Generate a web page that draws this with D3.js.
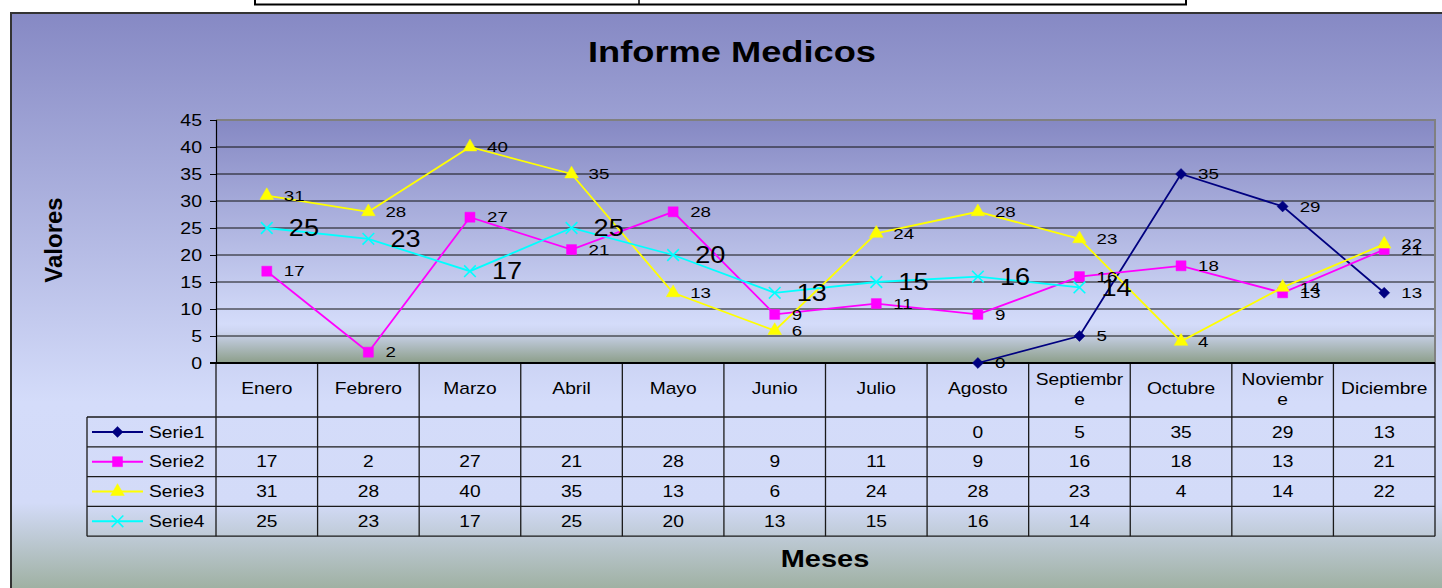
<!DOCTYPE html>
<html>
<head>
<meta charset="utf-8">
<script src="https://cdn.jsdelivr.net/npm/d3@7"></script>
<style>
  body { margin: 0; background: #fff; }
  text { font-family: "Liberation Sans", Arial, sans-serif; fill: #000; }
</style>
</head>
<body>
<div id="chart"></div>
<script>
// data
var meses = ["Enero", "Febrero", "Marzo", "Abril", "Mayo", "Junio", "Julio", "Agosto", "Septiembre", "Octubre", "Noviembre", "Diciembre"];
var serie1 = [null, null, null, null, null, null, null, 0, 5, 35, 29, 13];
var serie2 = [17, 2, 27, 21, 28, 9, 11, 9, 16, 18, 13, 21];
var serie3 = [31, 28, 40, 35, 13, 6, 24, 28, 23, 4, 14, 22];
var serie4 = [25, 23, 17, 25, 20, 13, 15, 16, 14, null, null, null];
var nombres = ["Serie1", "Serie2", "Serie3", "Serie4"];
var yTicks = [0, 5, 10, 15, 20, 25, 30, 35, 40, 45];

var series = [serie1, serie2, serie3, serie4];
var colores = ["#000080", "#ff00ff", "#ffff00", "#00ffff"];

var W = 1442, H = 588;
var svg = d3.select("#chart").append("svg").attr("width", W).attr("height", H);

// scales
var x = d3.scaleBand().domain(meses).range([216, 1435]);
var y = d3.scaleLinear().domain([0, 45]).range([363, 120]);

// gradients
var defs = svg.append("defs");
function grad(id, stops) {
    var g = defs.append("linearGradient").attr("id", id)
        .attr("x1", 0).attr("y1", 0).attr("x2", 0).attr("y2", 1);
    stops.forEach(function (s) {
        g.append("stop").attr("offset", s[0]).attr("stop-color", s[1]);
    });
}
grad("bgOuter", [[0, "#8689c4"], [0.66, "#d4dcfa"], [0.83, "#d3dbf8"], [1, "#96a994"]]);
grad("bgPlot", [[0, "#8588c3"], [0.84, "#d4dcfa"], [0.87, "#cdd5f1"], [1, "#8c9e89"]]);

// text helper: Excel text looks stretched sideways
function sText(g, px, py, str, size, sx, anchor, weight) {
    return g.append("text")
        .attr("transform", "translate(" + px + "," + py + ") scale(" + sx + ",1)")
        .attr("text-anchor", anchor || "middle")
        .style("font-size", size + "px")
        .style("font-weight", weight || "normal")
        .text(str);
}

// small box at the top of the page
svg.append("rect").attr("x", 255).attr("y", -6).attr("width", 931).attr("height", 10.5)
    .attr("fill", "#fff").attr("stroke", "#000").attr("stroke-width", 2);
svg.append("line").attr("x1", 639).attr("x2", 639).attr("y1", 0).attr("y2", 4)
    .attr("stroke", "#000").attr("stroke-width", 1.5);

// chart area
svg.append("rect").attr("x", 11).attr("y", 13).attr("width", W).attr("height", 590)
    .attr("fill", "url(#bgOuter)").attr("stroke", "#333").attr("stroke-width", 2);

// plot area
svg.append("rect").attr("x", 216).attr("y", 120).attr("width", 1435 - 216).attr("height", 363 - 120)
    .attr("fill", "url(#bgPlot)");

// gridlines
svg.append("g").selectAll("line").data(yTicks.filter(function (d) { return d > 0 && d < 45; }))
    .enter().append("line")
    .attr("x1", 216).attr("x2", 1435)
    .attr("y1", function (d) { return y(d); }).attr("y2", function (d) { return y(d); })
    .attr("stroke", "#111").attr("stroke-width", 1);

// plot border top / right
svg.append("path").attr("d", "M216," + y(45) + "H1435V363")
    .attr("fill", "none").attr("stroke", "#808080").attr("stroke-width", 2);

// y axis
var yAxis = svg.append("g").attr("transform", "translate(216,0)")
    .call(d3.axisLeft(y).tickValues(yTicks).tickSize(6).tickFormat(""));
yAxis.select(".domain").attr("stroke", "#000").attr("stroke-width", 1.2);
yAxis.selectAll(".tick line").attr("stroke", "#000");
yTicks.forEach(function (t) {
    sText(svg, 202, y(t) + 5.6, t, 16, 1.22, "end");
});

// table grid
var rowTop = 417, rowH = 29.8, nRows = nombres.length;
var tableBottom = rowTop + rowH * nRows;
var tbl = svg.append("g").attr("stroke", "#1a1a1a").attr("stroke-width", 1.3);
for (var r = 0; r <= nRows; r++) {
    tbl.append("line").attr("x1", 87).attr("x2", 1435)
        .attr("y1", rowTop + r * rowH).attr("y2", rowTop + r * rowH);
}
tbl.append("line").attr("x1", 87).attr("x2", 87).attr("y1", rowTop).attr("y2", tableBottom);
meses.forEach(function (m, i) {
    tbl.append("line").attr("x1", x(m)).attr("x2", x(m)).attr("y1", 363).attr("y2", tableBottom);
});
tbl.append("line").attr("x1", 1435).attr("x2", 1435).attr("y1", 363).attr("y2", tableBottom);

// x axis line (bold zero line)
svg.append("line").attr("x1", 210).attr("x2", 1435).attr("y1", 363).attr("y2", 363)
    .attr("stroke", "#000").attr("stroke-width", 2.2);

// category labels, wrapped by character like Excel
var catSX = 1.2, catSize = 16, maxW = x.bandwidth() - 10;
meses.forEach(function (m) {
    var cx = x(m) + x.bandwidth() / 2;
    var probe = sText(svg, 0, 0, m, catSize, catSX);
    var lines = [];
    var cur = "";
    for (var k = 0; k < m.length; k++) {
        probe.text(cur + m[k]);
        if (probe.node().getComputedTextLength() * catSX > maxW && cur.length) {
            lines.push(cur);
            cur = m[k];
        } else {
            cur += m[k];
        }
    }
    lines.push(cur);
    probe.remove();
    var y0 = lines.length === 1 ? 394 : 385;
    lines.forEach(function (ln, j) {
        sText(svg, cx, y0 + j * 20, ln, catSize, catSX);
    });
});

// markers
var diamond = { draw: function (ctx, size) {
    var r = Math.sqrt(size / 2);
    ctx.moveTo(0, -r); ctx.lineTo(r, 0); ctx.lineTo(0, r); ctx.lineTo(-r, 0); ctx.closePath();
} };
var symbols = [
    d3.symbol().type(diamond).size(60),
    d3.symbol().type(d3.symbolSquare).size(100),
    d3.symbol().type(d3.symbolTriangle).size(80),
    d3.symbol().type(d3.symbolX).size(90)
];
function marker(g, i, px, py) {
    var p = g.append("path").attr("d", symbols[i]())
        .attr("transform", "translate(" + px + "," + py + ")");
    if (i === 3) p.attr("fill", "none").attr("stroke", colores[i]).attr("stroke-width", 1.6);
    else p.attr("fill", colores[i]).attr("stroke", colores[i]).attr("stroke-width", 0.5);
}

// table values + legend keys
series.forEach(function (s, i) {
    var cy = rowTop + i * rowH + rowH / 2;
    svg.append("line").attr("x1", 92).attr("x2", 143).attr("y1", cy).attr("y2", cy)
        .attr("stroke", colores[i]).attr("stroke-width", 2);
    marker(svg, i, 117.5, cy);
    sText(svg, 149, cy + 5.6, nombres[i], 16, 1.2, "start");
    s.forEach(function (v, j) {
        if (v == null) return;
        sText(svg, x(meses[j]) + x.bandwidth() / 2, cy + 5.6, v, 16, 1.2);
    });
});

// lines
var cx = function (i) { return x(meses[i]) + x.bandwidth() / 2; };
var line = d3.line()
    .defined(function (d) { return d != null; })
    .x(function (d, i) { return cx(i); })
    .y(function (d) { return y(d); });

var plot = svg.append("g");
series.forEach(function (s, i) {
    plot.append("path").datum(s).attr("d", line)
        .attr("fill", "none").attr("stroke", colores[i]).attr("stroke-width", 1.8);
    s.forEach(function (v, j) {
        if (v == null) return;
        marker(plot, i, cx(j), y(v));
    });
});

// data labels
series.forEach(function (s, i) {
    var big = i === 3;
    s.forEach(function (v, j) {
        if (v == null) return;
        if (big) sText(plot, cx(j) + 22, y(v) + 8.2, v, 23, 1.18, "start");
        else sText(plot, cx(j) + 17, y(v) + 5.2, v, 15, 1.25, "start");
    });
});

// titles
sText(svg, 732, 61.5, "Informe Medicos", 29, 1.25, "middle", "bold");
sText(svg, 825, 567.3, "Meses", 23, 1.26, "middle", "bold");
svg.append("text")
    .attr("transform", "translate(61.5,240) rotate(-90)")
    .attr("text-anchor", "middle")
    .style("font-size", "24px").style("font-weight", "bold")
    .text("Valores");
</script>
</body>
</html>
